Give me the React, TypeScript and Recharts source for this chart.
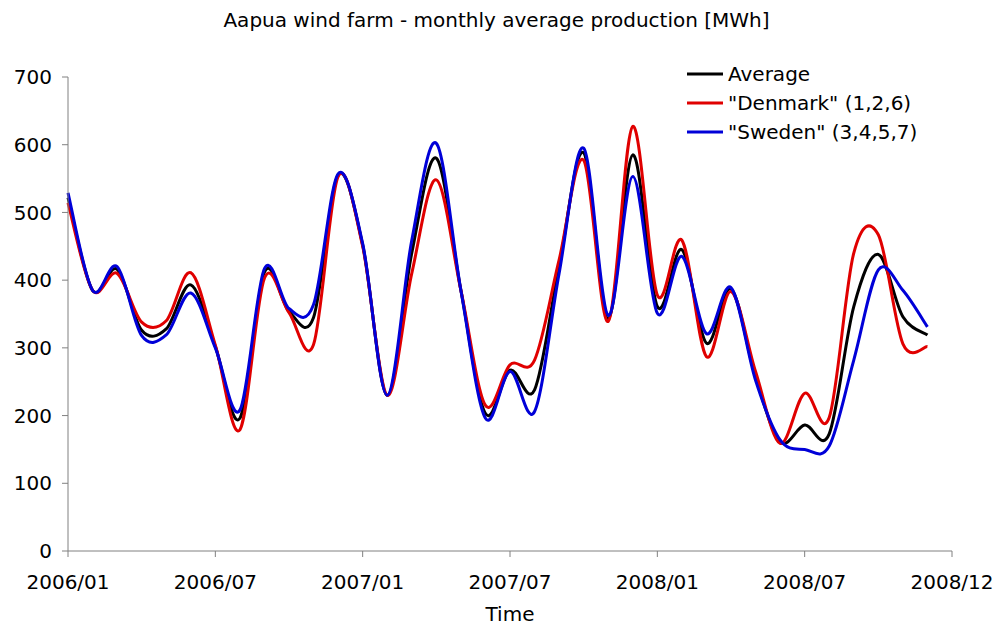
import { Legend, Line, LineChart, XAxis, YAxis } from 'recharts'

const tickPositions = [0, 6, 12, 18, 24, 30, 36]
const tickLabels = ['2006/01', '2006/07', '2007/01', '2007/07', '2008/01', '2008/07', '2008/12']
const yTicks = [0, 100, 200, 300, 400, 500, 600, 700]
const seriesNames = ['Average', '"Denmark" (1,2,6)', '"Sweden" (3,4,5,7)']

const average = [
  522, 385, 416, 326, 328, 393, 302, 196, 412, 354, 345, 555,
  452, 230, 440, 580, 385, 203, 267, 238, 420, 588, 343, 585,
  361, 445, 307, 387, 257, 161, 186, 173, 361, 438, 346, 319,
]
const denmark = [
  514, 385, 410, 338, 340, 411, 304, 179, 403, 352, 305, 553,
  450, 230, 410, 548, 385, 215, 275, 282, 430, 577, 339, 627,
  378, 459, 287, 383, 265, 159, 233, 197, 440, 467, 306, 302,
]
const sweden = [
  529, 385, 420, 318, 319, 381, 300, 208, 417, 358, 364, 557,
  454, 230, 459, 602, 385, 196, 265, 206, 410, 595, 348, 553,
  351, 435, 321, 389, 252, 164, 150, 155, 282, 415, 385, 331,
]

const data = average.map((v, i) => ({
  month: i,
  average: v,
  denmark: denmark[i],
  sweden: sweden[i],
}))

// Excel style smoothed line (Catmull-Rom as cubic bezier)
function smoothCurve(context: any) {
  let pts: [number, number][] = []
  return {
    areaStart() {},
    areaEnd() {},
    lineStart() {
      pts = []
    },
    lineEnd() {
      if (!pts.length) return
      context.moveTo(pts[0][0], pts[0][1])
      for (let i = 0; i < pts.length - 1; i++) {
        const p0 = pts[Math.max(i - 1, 0)]
        const p1 = pts[i]
        const p2 = pts[i + 1]
        const p3 = pts[Math.min(i + 2, pts.length - 1)]
        context.bezierCurveTo(
          p1[0] + (p2[0] - p0[0]) / 6,
          p1[1] + (p2[1] - p0[1]) / 6,
          p2[0] - (p3[0] - p1[0]) / 6,
          p2[1] - (p3[1] - p1[1]) / 6,
          p2[0],
          p2[1]
        )
      }
    },
    point(x: number, y: number) {
      pts.push([x, y])
    },
  }
}

const font = '"DejaVu Sans", Verdana, sans-serif'

function LegendBox({ payload }: any) {
  const items = [...(payload || [])].sort(
    (a: any, b: any) => seriesNames.indexOf(a.value) - seriesNames.indexOf(b.value)
  )
  return (
    <div style={{ fontFamily: font, fontSize: 20, color: '#000' }}>
      {items.map((p: any) => (
        <div key={p.value} style={{ display: 'flex', alignItems: 'center', height: 29.3 }}>
          <svg width={36} height={4} style={{ marginRight: 5 }}>
            <line x1={0} y1={2} x2={36} y2={2} stroke={p.color} strokeWidth={3} />
          </svg>
          <span style={{ whiteSpace: 'pre' }}>{p.value}</span>
        </div>
      ))}
    </div>
  )
}

export default function App() {
  return (
    <div style={{ position: 'absolute', left: 0, top: 0, width: 998, height: 625, background: '#fff' }}>
      <div
        style={{
          position: 'absolute',
          left: 0,
          top: 8,
          width: 993,
          textAlign: 'center',
          fontFamily: font,
          fontSize: 20,
          lineHeight: '24px',
          color: '#000',
        }}
      >
        Aapua wind farm - monthly average production [MWh]
      </div>
      <LineChart width={998} height={625} data={data} margin={{ top: 77, right: 46, bottom: 0, left: 0 }}>
        <XAxis
          dataKey='month'
          type='number'
          domain={[0, 36]}
          ticks={tickPositions}
          tickFormatter={(v) => tickLabels[tickPositions.indexOf(v)]}
          height={74}
          stroke='#808080'
          tick={{ fill: '#000', fontSize: 20, fontFamily: font }}
          tickSize={6}
          tickMargin={18}
          interval={0}
          label={{ value: 'Time', position: 'insideBottom', offset: 4, fill: '#000', fontSize: 20, fontFamily: font }}
        />
        <YAxis
          domain={[0, 700]}
          ticks={yTicks}
          width={68}
          stroke='#808080'
          tick={{ fill: '#000', fontSize: 20, fontFamily: font }}
          tickSize={6}
          tickMargin={10}
          interval={0}
        />
        <Legend
          layout='vertical'
          align='center'
          verticalAlign='middle'
          wrapperStyle={{ left: 687, top: 59, width: 280 }}
          content={<LegendBox />}
        />
        <Line name={seriesNames[0]} dataKey='average' type={smoothCurve as any} stroke='#000000' strokeWidth={3} dot={false} isAnimationActive={false} />
        <Line name={seriesNames[1]} dataKey='denmark' type={smoothCurve as any} stroke='#e00000' strokeWidth={3} dot={false} isAnimationActive={false} />
        <Line name={seriesNames[2]} dataKey='sweden' type={smoothCurve as any} stroke='#0000d8' strokeWidth={3} dot={false} isAnimationActive={false} />
      </LineChart>
    </div>
  )
}
